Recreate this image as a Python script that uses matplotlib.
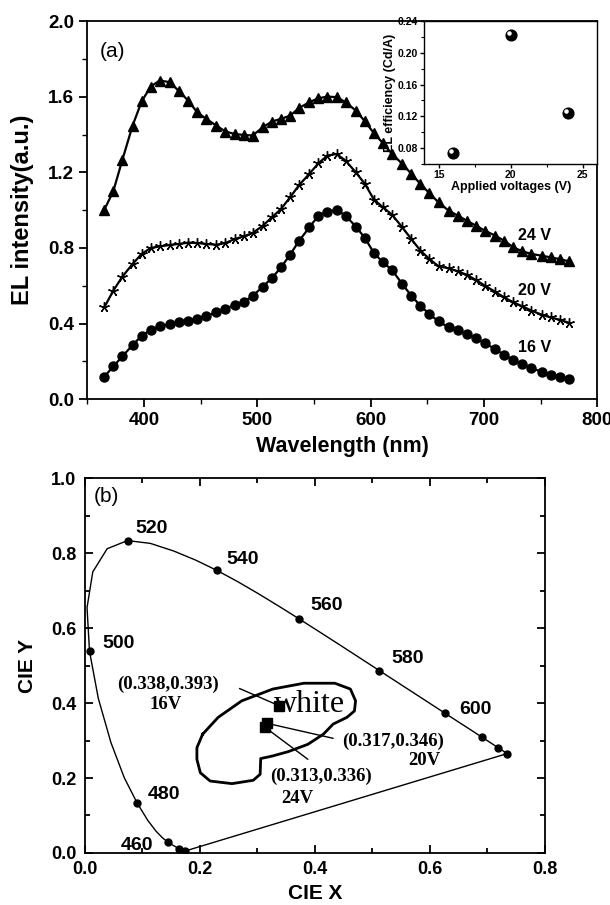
import numpy as np
import matplotlib
matplotlib.use("Agg")
import matplotlib.pyplot as plt
from matplotlib.ticker import MultipleLocator
from matplotlib.transforms import offset_copy

plt.rcParams['font.family'] = ['Liberation Sans', 'DejaVu Sans']
plt.rcParams['font.weight'] = 'bold'
plt.rcParams['axes.linewidth'] = 1.3

# ---- panel (a): EL spectra ----
wavelength = [365, 373, 381, 390, 398, 406, 414, 423, 431, 439, 447, 455, 464, 472,
              480, 488, 496, 505, 513, 521, 529, 537, 546, 554, 562, 570, 578, 587,
              595, 603, 611, 619, 628, 636, 644, 652, 660, 669, 677, 685, 693, 701,
              710, 718, 726, 734, 742, 751, 759, 767, 775]

el_16v = [0.118, 0.173, 0.226, 0.286, 0.335, 0.367, 0.385, 0.397, 0.406, 0.415, 0.424,
          0.440, 0.459, 0.477, 0.500, 0.512, 0.547, 0.595, 0.641, 0.697, 0.764, 0.838,
          0.909, 0.971, 0.992, 1.001, 0.971, 0.913, 0.853, 0.773, 0.724, 0.683, 0.609,
          0.547, 0.494, 0.450, 0.411, 0.380, 0.365, 0.344, 0.321, 0.295, 0.265, 0.233,
          0.207, 0.185, 0.164, 0.145, 0.129, 0.118, 0.109]

el_20v = [0.485, 0.574, 0.648, 0.715, 0.768, 0.800, 0.808, 0.816, 0.821, 0.828, 0.826,
          0.821, 0.817, 0.826, 0.847, 0.861, 0.879, 0.918, 0.962, 1.006, 1.068, 1.133,
          1.192, 1.248, 1.289, 1.297, 1.262, 1.200, 1.139, 1.056, 1.015, 0.976, 0.909,
          0.847, 0.786, 0.741, 0.703, 0.692, 0.676, 0.658, 0.630, 0.600, 0.568, 0.538,
          0.512, 0.491, 0.468, 0.447, 0.432, 0.420, 0.404]

el_24v = [1.001, 1.100, 1.266, 1.447, 1.575, 1.654, 1.686, 1.677, 1.629, 1.580, 1.518,
          1.483, 1.447, 1.416, 1.403, 1.398, 1.395, 1.439, 1.469, 1.483, 1.500, 1.541,
          1.571, 1.592, 1.601, 1.598, 1.571, 1.527, 1.470, 1.407, 1.354, 1.297, 1.245,
          1.192, 1.139, 1.089, 1.041, 0.997, 0.971, 0.944, 0.918, 0.891, 0.865, 0.838,
          0.803, 0.782, 0.768, 0.759, 0.750, 0.741, 0.729]

# inset: EL efficiency vs applied voltage
voltages = [16, 20, 24]
efficiency = [0.073, 0.222, 0.124]

# ---- panel (b): CIE 1931 diagram ----
locus_nm = [380, 385, 390, 395, 400, 405, 410, 415, 420, 425, 430, 435, 440, 445,
            450, 455, 460, 465, 470, 475, 480, 485, 490, 495, 500, 505, 510, 515,
            520, 525, 530, 535, 540, 545, 550, 555, 560, 565, 570, 575, 580, 585,
            590, 595, 600, 605, 610, 615, 620, 625, 630, 635, 640, 645, 650, 655,
            660, 665, 670, 675, 680, 685, 690, 695, 700]
locus_x = [0.1741, 0.1740, 0.1738, 0.1736, 0.1733, 0.1730, 0.1726, 0.1721, 0.1714,
           0.1703, 0.1689, 0.1669, 0.1644, 0.1611, 0.1566, 0.1510, 0.1440, 0.1355,
           0.1241, 0.1096, 0.0913, 0.0687, 0.0454, 0.0235, 0.0082, 0.0039, 0.0139,
           0.0389, 0.0743, 0.1142, 0.1547, 0.1929, 0.2296, 0.2658, 0.3016, 0.3373,
           0.3731, 0.4087, 0.4441, 0.4788, 0.5125, 0.5448, 0.5752, 0.6029, 0.6270,
           0.6482, 0.6658, 0.6801, 0.6915, 0.7006, 0.7079, 0.7140, 0.7190, 0.7230,
           0.7260, 0.7283, 0.7300, 0.7311, 0.7320, 0.7327, 0.7334, 0.7340, 0.7344,
           0.7346, 0.7347]
locus_y = [0.0050, 0.0050, 0.0049, 0.0049, 0.0048, 0.0048, 0.0048, 0.0048, 0.0051,
           0.0058, 0.0069, 0.0086, 0.0109, 0.0138, 0.0177, 0.0227, 0.0297, 0.0399,
           0.0578, 0.0868, 0.1327, 0.2007, 0.2950, 0.4127, 0.5384, 0.6548, 0.7502,
           0.8120, 0.8338, 0.8262, 0.8059, 0.7816, 0.7543, 0.7243, 0.6923, 0.6589,
           0.6245, 0.5896, 0.5547, 0.5202, 0.4866, 0.4544, 0.4242, 0.3965, 0.3725,
           0.3514, 0.3340, 0.3197, 0.3083, 0.2993, 0.2920, 0.2859, 0.2809, 0.2770,
           0.2740, 0.2717, 0.2700, 0.2689, 0.2680, 0.2673, 0.2666, 0.2660, 0.2656,
           0.2654, 0.2653]
marked_nm = [380, 440, 460, 480, 500, 520, 540, 560, 580, 600, 620, 640, 700]
labelled_nm = [460, 480, 500, 520, 540, 560, 580, 600]

# white region outline
white_x = [0.205, 0.232, 0.273, 0.327, 0.381, 0.435, 0.462, 0.471, 0.469, 0.456,
           0.432, 0.415, 0.388, 0.354, 0.327, 0.306, 0.305, 0.293, 0.256, 0.218,
           0.201, 0.195, 0.195, 0.205]
white_y = [0.317, 0.362, 0.406, 0.4375, 0.453, 0.453, 0.4375, 0.406, 0.379, 0.362,
           0.344, 0.317, 0.290, 0.2705, 0.259, 0.252, 0.210, 0.194, 0.185, 0.192,
           0.214, 0.250, 0.281, 0.317]

# device colour coordinates
cie_labels = ["16V", "20V", "24V"]
cie_x = [0.338, 0.317, 0.313]
cie_y = [0.393, 0.346, 0.336]

fig = plt.figure(figsize=(6.10, 9.05), dpi=100)

# ================= panel (a) =================
ax1 = fig.add_axes([0.143, 0.559, 0.836, 0.4176])
ax1.plot(wavelength, el_24v, color='black', lw=1.6, marker='^', ms=6.5)
ax1.plot(wavelength, el_20v, color='black', lw=1.6, marker=(5, 2, 0), ms=7.5, mew=1.0)
ax1.plot(wavelength, el_16v, color='black', lw=1.6, marker='o', ms=6.5)
ax1.set_xlim(350, 800)
ax1.set_ylim(0, 2.0)
ax1.xaxis.set_major_locator(MultipleLocator(100))
ax1.xaxis.set_minor_locator(MultipleLocator(50))
ax1.yaxis.set_major_locator(MultipleLocator(0.4))
ax1.yaxis.set_minor_locator(MultipleLocator(0.2))
ax1.yaxis.set_major_formatter(plt.FormatStrFormatter('%.1f'))
ax1.tick_params(which='major', direction='out', length=6, width=1.3, labelsize=13.5)
ax1.tick_params(which='minor', direction='out', length=3.5, width=1.0)
ax1.set_xlabel("Wavelength (nm)", fontsize=15.5, fontweight='bold', labelpad=5)
ax1.set_ylabel("EL intensity(a.u.)", fontsize=17, fontweight='bold', labelpad=10)
ax1.text(361, 1.84, "(a)", fontsize=15, fontweight='normal', va='center')
ax1.text(730, 0.865, "24 V", fontsize=11.5, fontweight='bold', va='center')
ax1.text(730, 0.574, "20 V", fontsize=11.5, fontweight='bold', va='center')
ax1.text(730, 0.274, "16 V", fontsize=11.5, fontweight='bold', va='center')

# inset
axi = ax1.inset_axes([0.661, 0.623, 0.339, 0.377])
axi.scatter(voltages, efficiency, s=60, color='black', zorder=3)
hl = offset_copy(axi.transData, fig=fig, x=-1.5, y=1.5, units='points')
axi.scatter(voltages, efficiency, s=5, color='white', transform=hl, zorder=4)
axi.set_xlim(14, 26)
axi.set_ylim(0.06, 0.24)
axi.xaxis.set_major_locator(MultipleLocator(5))
axi.xaxis.set_minor_locator(MultipleLocator(2.5))
axi.yaxis.set_major_locator(MultipleLocator(0.04))
axi.yaxis.set_minor_locator(MultipleLocator(0.02))
axi.yaxis.set_major_formatter(plt.FormatStrFormatter('%.2f'))
axi.tick_params(which='major', direction='out', length=3, width=1.0, labelsize=7.5, pad=1.5)
axi.tick_params(which='minor', direction='out', length=2, width=0.8)
for s in axi.spines.values():
    s.set_linewidth(1.0)
axi.set_xlabel("Applied voltages (V)", fontsize=9, fontweight='bold', labelpad=1)
axi.set_ylabel("EL efficiency (Cd/A)", fontsize=9, fontweight='bold', labelpad=1)

# ================= panel (b) =================
ax2 = fig.add_axes([0.139, 0.0575, 0.754, 0.414])
ax2.plot(locus_x, locus_y, color='black', lw=1.0)
ax2.plot([locus_x[0], locus_x[-1]], [locus_y[0], locus_y[-1]], color='black', lw=1.0)
mk = [locus_nm.index(n) for n in marked_nm]
ax2.plot([locus_x[i] for i in mk], [locus_y[i] for i in mk], 'o', color='black', ms=5)

label_pos = {460: (0.091, 0.020), 480: (0.137, 0.156), 500: (0.059, 0.560),
             520: (0.117, 0.866), 540: (0.274, 0.783), 560: (0.420, 0.660),
             580: (0.561, 0.518), 600: (0.679, 0.384)}
for n in labelled_nm:
    lx, ly = label_pos[n]
    ax2.text(lx, ly, str(n), fontsize=14, fontweight='bold', ha='center', va='center')

ax2.plot(white_x, white_y, color='black', lw=2.0)
ax2.text(0.391, 0.395, "white", fontsize=23, family='Liberation Serif',
         fontweight='normal', ha='center', va='center')

ax2.plot(cie_x, cie_y, 's', color='black', ms=7)

serif = dict(family='Liberation Serif', fontweight='bold', fontsize=13.5)
coord_text = ["(%.3f,%.3f)" % (x, y) for x, y in zip(cie_x, cie_y)]
text_pos = [(0.056, 0.449), (0.447, 0.297), (0.322, 0.205)]
volt_pos = [(0.14, 0.397), (0.591, 0.247), (0.37, 0.145)]
line_start = [(0.269, 0.439), (0.432, 0.306), (0.388, 0.250)]
for i in range(3):
    tx, ty = text_pos[i]
    ax2.text(tx, ty, coord_text[i], ha='left', va='center', **serif)
    vx, vy = volt_pos[i]
    ax2.text(vx, vy, cie_labels[i], ha='center', va='center', **serif)
    ax2.annotate("", xy=(cie_x[i], cie_y[i]), xytext=line_start[i],
                 arrowprops=dict(arrowstyle='-', lw=1.0, color='black',
                                 shrinkA=0, shrinkB=0))

ax2.set_xlim(0, 0.8)
ax2.set_ylim(0, 1.0)
ax2.xaxis.set_major_locator(MultipleLocator(0.2))
ax2.xaxis.set_minor_locator(MultipleLocator(0.1))
ax2.yaxis.set_major_locator(MultipleLocator(0.2))
ax2.yaxis.set_minor_locator(MultipleLocator(0.1))
ax2.xaxis.set_major_formatter(plt.FormatStrFormatter('%.1f'))
ax2.yaxis.set_major_formatter(plt.FormatStrFormatter('%.1f'))
ax2.tick_params(which='both', direction='in', top=True, right=True, width=1.3)
ax2.tick_params(which='major', length=6, labelsize=13, pad=6)
ax2.tick_params(which='minor', length=3.5)
ax2.set_xlabel("CIE X", fontsize=15, fontweight='bold', labelpad=4)
ax2.set_ylabel("CIE Y", fontsize=15, fontweight='bold', labelpad=10)
ax2.text(0.015, 0.951, "(b)", fontsize=15, fontweight='normal', va='center')

fig.savefig("out.png", dpi=100)
